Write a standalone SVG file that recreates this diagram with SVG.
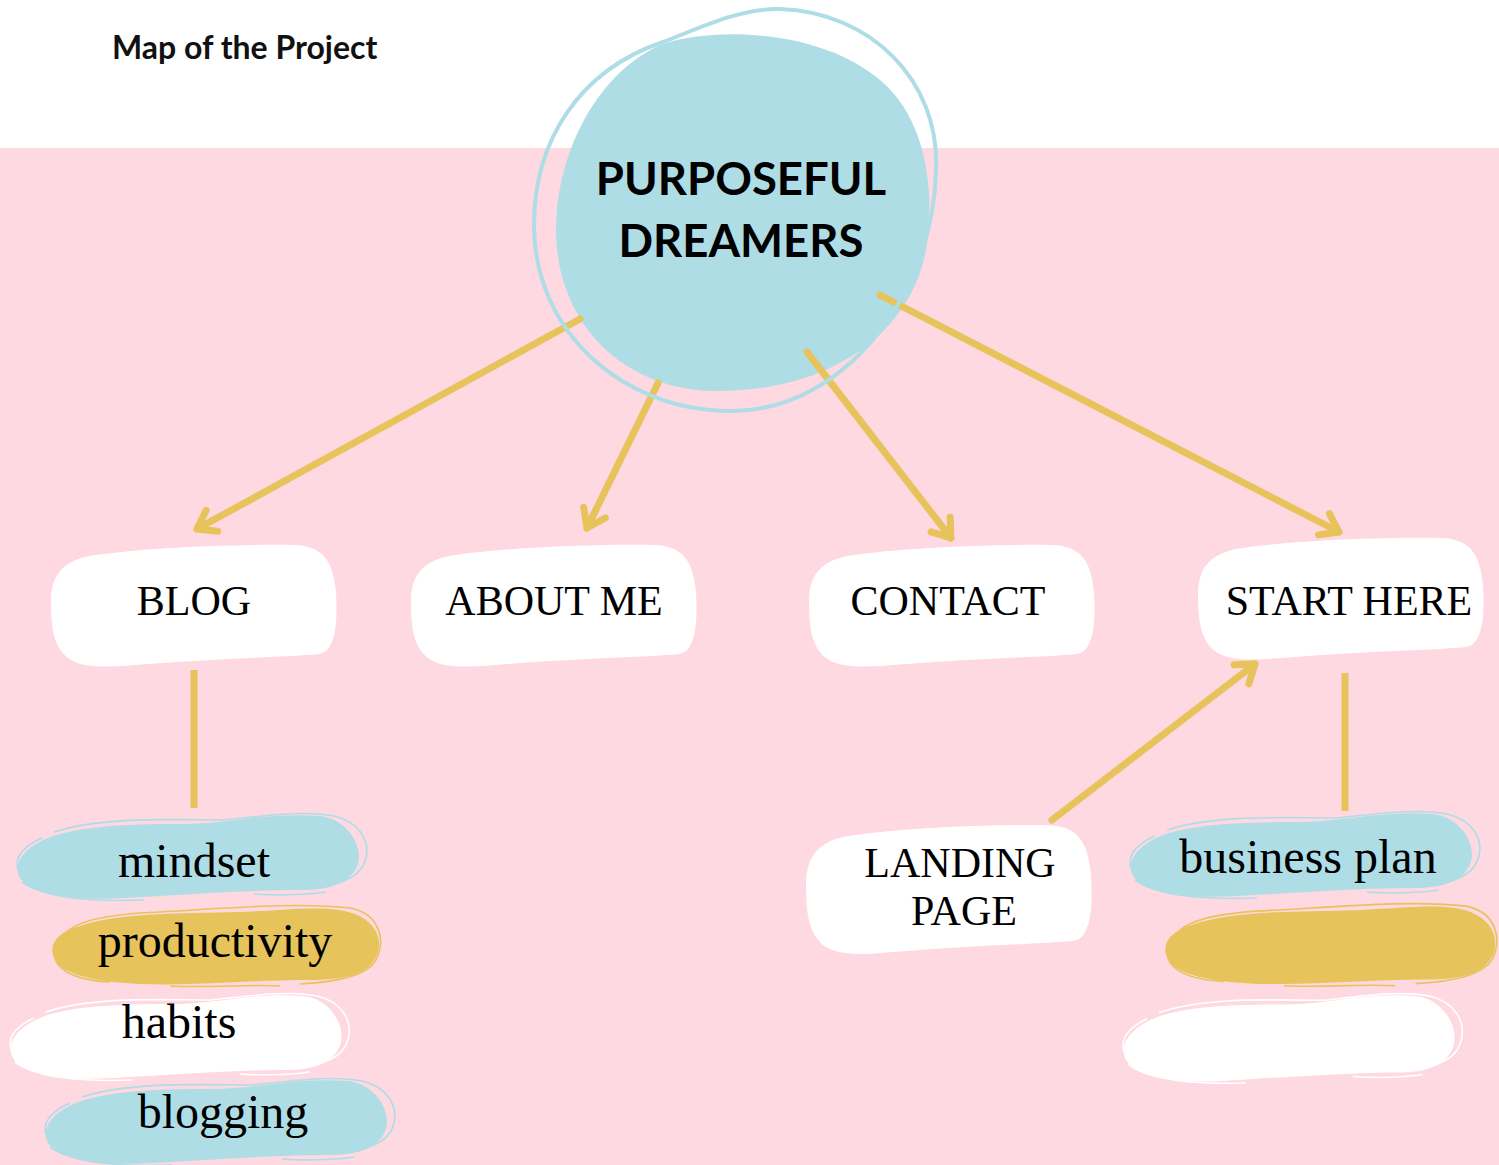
<svg xmlns="http://www.w3.org/2000/svg" xmlns:xlink="http://www.w3.org/1999/xlink" width="1499" height="1165" viewBox="0 0 1499 1165">
  <style>
    .title { font-family: Lato, "Liberation Sans", sans-serif; font-weight: 700; fill: #111; }
    .hub { font-family: Lato, "Liberation Sans", sans-serif; font-weight: 700; font-size: 45.5px; fill: #000; text-anchor: middle; }
    .label { font-family: "Liberation Serif", "DejaVu Serif", serif; font-size: 42px; fill: #000; text-anchor: middle; }
    .tag { font-family: "Liberation Serif", "DejaVu Serif", serif; font-size: 48px; fill: #000; text-anchor: middle; }
    .card { fill: #ffffff; }
    .link { fill: none; stroke: #E7C35B; stroke-width: 7; stroke-linecap: round; }
    .stem { fill: none; stroke: #E7C35B; stroke-width: 7; stroke-linecap: butt; }
    .sketch { fill: none; stroke-width: 1.6; }
    .blue { fill: #AEDDE6; }
    .gold { fill: #E7C35B; }
    .white { fill: #ffffff; }
    .blue-line { stroke: #AEDDE6; }
    .gold-line { stroke: #E7C35B; }
    .white-line { stroke: #ffffff; }
  </style>
  <defs>
    <!-- open chevron arrowhead -->
    <marker id="chevron" markerUnits="userSpaceOnUse" orient="auto" refX="0" refY="0" viewBox="-24 -18 30 36" markerWidth="30" markerHeight="36" overflow="visible">
      <path d="M -17,-12 L 0,0 L -17,12" fill="none" stroke="#E7C35B" stroke-width="7" stroke-linecap="round" stroke-linejoin="round"/>
    </marker>
    <!-- hand-drawn white card -->
    <path id="card-shape" d="M 40,14 C 90,6 180,2 245,3 C 275,4 284,20 287,50 C 289,80 286,100 278,108 C 272,114 262,112 245,114 C 200,116 150,118 100,122 C 70,124 40,128 22,118 C 6,108 2,90 2,60 C 2,35 12,20 40,14 Z"/>
    <!-- brush stroke, variant A -->
    <path id="brush-a" d="M 22,34 C 50,16 110,14 170,14 C 215,14 255,2 305,6 C 330,8 345,30 345,46 C 345,66 325,80 290,80 C 240,80 180,84 110,88 C 60,91 20,86 6,68 C 0,56 6,44 22,34 Z"/>
    <path id="brush-a-edge" d="M 40,22 C 90,6 160,10 210,10 C 250,6 290,0 320,6 C 345,12 356,30 352,48 C 348,64 335,70 320,74 M 8,72 C 30,88 80,92 130,90 M 240,84 C 270,86 300,84 312,82 M 4,60 C 0,46 10,36 28,28"/>
    <!-- brush stroke, variant B -->
    <path id="brush-b" d="M 30,26 C 70,12 130,14 190,12 C 240,10 280,4 305,14 C 325,22 332,38 328,52 C 322,72 300,80 260,80 C 200,80 150,86 90,84 C 50,82 12,76 4,58 C -2,44 8,32 30,26 Z"/>
    <path id="brush-b-edge" d="M 10,40 C 20,20 60,14 110,12 C 180,8 250,2 300,8 C 330,14 336,40 326,60 C 318,74 290,82 250,84 M 6,50 C 0,66 20,80 60,82 M 120,86 C 160,88 200,84 230,86"/>
  </defs>

  <!-- backdrop -->
  <rect x="0" y="0" width="1499" height="1165" fill="#ffffff"/>
  <rect x="0" y="148" width="1499" height="1017" fill="#FED9E1"/>

  <text class="title" x="112" y="59" font-size="32">Map of the Project</text>

  <!-- hub fill -->
  <g id="node-hub">
    <path class="blue" d="M 663,44 C 720,25 840,30 895,95 C 932,140 934,212 925,255 C 906,340 822,392 715,391 C 620,390 556,320 556,230 C 556,150 600,70 663,44 Z"/>
  </g>

  <!-- connectors -->
  <g id="connectors">
    <path class="link" d="M 580,319 L 197,529" marker-end="url(#chevron)"/>
    <path class="link" d="M 658,383 L 587,528" marker-end="url(#chevron)"/>
    <path class="link" d="M 807,352 L 951,538" marker-end="url(#chevron)"/>
    <path class="link" d="M 880,295 L 1339,532" marker-end="url(#chevron)"/>
    <path class="link" d="M 1052,820 L 1255,664" marker-end="url(#chevron)"/>
    <path class="stem" d="M 194,670 L 194,808"/>
    <path class="stem" d="M 1345,673 L 1345,811"/>
  </g>

  <!-- hub outline ring and title -->
  <g id="node-hub-label">
    <path d="M 780,9 C 870,12 940,80 936,170 C 934,292 845,412 730,411 C 620,410 534,330 534,225 C 534,140 580,70 663,42 C 700,28 740,8 780,9 Z" fill="none" stroke="#AEDDE6" stroke-width="4"/>
    <text class="hub" x="741" y="195">PURPOSEFUL</text>
    <text class="hub" x="741" y="257">DREAMERS</text>
  </g>

  <!-- page cards -->
  <g id="node-blog">
    <use xlink:href="#card-shape" class="card" transform="translate(49,542)"/>
    <text class="label" x="194" y="615">BLOG</text>
  </g>
  <g id="node-about">
    <use xlink:href="#card-shape" class="card" transform="translate(409,542)"/>
    <text class="label" x="554" y="615">ABOUT ME</text>
  </g>
  <g id="node-contact">
    <use xlink:href="#card-shape" class="card" transform="translate(807,542)"/>
    <text class="label" x="948" y="615">CONTACT</text>
  </g>
  <g id="node-start">
    <use xlink:href="#card-shape" class="card" transform="translate(1196,535)"/>
    <text class="label" x="1349" y="615">START HERE</text>
  </g>
  <g id="node-landing">
    <use xlink:href="#card-shape" class="card" transform="translate(804,822) scale(1,1.06)"/>
    <text class="label" x="960" y="877">LANDING</text>
    <text class="label" x="964" y="925">PAGE</text>
  </g>

  <!-- blog topics -->
  <g id="node-mindset">
    <use xlink:href="#brush-a" class="blue" transform="translate(14,810)"/>
    <use xlink:href="#brush-a-edge" class="sketch blue-line" transform="translate(14,810)"/>
    <text class="tag" x="194" y="877">mindset</text>
  </g>
  <g id="node-productivity">
    <use xlink:href="#brush-b" class="gold" transform="translate(50,900)"/>
    <use xlink:href="#brush-b-edge" class="sketch gold-line" transform="translate(50,900)"/>
    <text class="tag" x="215" y="957">productivity</text>
  </g>
  <g id="node-habits">
    <use xlink:href="#brush-a" class="white" transform="translate(7,990) scale(0.97,1)"/>
    <use xlink:href="#brush-a-edge" class="sketch white-line" transform="translate(7,990) scale(0.97,1)"/>
    <text class="tag" x="179" y="1038">habits</text>
  </g>
  <g id="node-blogging">
    <use xlink:href="#brush-a" class="blue" transform="translate(42,1075)"/>
    <use xlink:href="#brush-a-edge" class="sketch blue-line" transform="translate(42,1075)"/>
    <text class="tag" x="223" y="1128">blogging</text>
  </g>

  <!-- start-here topics -->
  <g id="node-business-plan">
    <use xlink:href="#brush-a" class="blue" transform="translate(1127,808)"/>
    <use xlink:href="#brush-a-edge" class="sketch blue-line" transform="translate(1127,808)"/>
    <text class="tag" x="1308" y="873">business plan</text>
  </g>
  <g id="node-gold-slot">
    <use xlink:href="#brush-b" class="gold" transform="translate(1163,898) scale(1.01,1.02)"/>
    <use xlink:href="#brush-b-edge" class="sketch gold-line" transform="translate(1163,898) scale(1.01,1.02)"/>
  </g>
  <g id="node-white-slot">
    <use xlink:href="#brush-a" class="white" transform="translate(1120,990) scale(0.97,1.03)"/>
    <use xlink:href="#brush-a-edge" class="sketch white-line" transform="translate(1120,990) scale(0.97,1.03)"/>
  </g>
</svg>
